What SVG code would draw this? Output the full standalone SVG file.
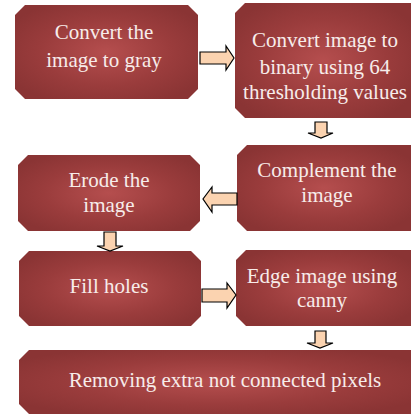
<svg xmlns="http://www.w3.org/2000/svg" width="411" height="414" viewBox="0 0 411 414">
<style>
.box{fill:url(#g);}
.t{font-size:21px;fill:#f7ecea;text-anchor:middle;}
.ar{fill:#fbd3b0;stroke:#000;stroke-width:1.2;stroke-linejoin:miter;}
</style>
<defs>
<radialGradient id="g" cx="50%" cy="50%" r="60%">
<stop offset="0" stop-color="#b54e4e"/>
<stop offset="0.6" stop-color="#9a3c3c"/>
<stop offset="1" stop-color="#8a3434"/>
</radialGradient>
</defs>
<rect width="411" height="414" fill="#fff"/>
<g font-family="'Liberation Serif', 'DejaVu Serif', serif">
<g id="n1">
<path class="box" d="M25,5 H188 L198,15 V89 L188,99 H25 L15,89 V15 Z"/>
<text class="t" x="104" y="39">Convert the</text>
<text class="t" x="104" y="67">image to gray</text>
</g>
<g id="n2">
<path class="box" d="M245,3 H411 V118 H245 L235,108 V13 Z"/>
<text class="t" x="325" y="47">Convert image to</text>
<text class="t" x="325" y="74">binary using 64</text>
<text class="t" x="325" y="99">thresholding values</text>
</g>
<g id="n3">
<path class="box" d="M247,145 H411 V231 H247 L237,221 V155 Z"/>
<text class="t" x="327" y="177">Complement the</text>
<text class="t" x="327" y="202">image</text>
</g>
<g id="n4">
<path class="box" d="M28,155 H190 L200,165 V221 L190,231 H28 L18,221 V165 Z"/>
<text class="t" x="109" y="187">Erode the</text>
<text class="t" x="109" y="212">image</text>
</g>
<g id="n5">
<path class="box" d="M29,251 H191 L201,261 V316 L191,326 H29 L19,316 V261 Z"/>
<text class="t" x="109" y="293">Fill holes</text>
</g>
<g id="n6">
<path class="box" d="M246,250 H411 V326 H246 L236,316 V260 Z"/>
<text class="t" x="322" y="283">Edge image using</text>
<text class="t" x="322" y="307">canny</text>
</g>
<g id="n7">
<path class="box" d="M29,350 H411 V414 H29 L19,404 V360 Z"/>
<text class="t" x="225" y="387">Removing extra not connected pixels</text>
</g>
</g>
<g id="connectors">
<path class="ar" d="M200,52 H226 V46 L234,58 L226,70 V64 H200 Z"/>
<path class="ar" d="M315,122 H327 V133 H333 L321,138 L308,133 H315 Z"/>
<path class="ar" d="M237,193 H212 V187 L203,199 L212,212 V205 H237 Z"/>
<path class="ar" d="M104,232 H116 V246 H123 L110,251 L97,246 H104 Z"/>
<path class="ar" d="M202,289 H227 V283 L236,295 L227,308 V302 H202 Z"/>
<path class="ar" d="M315,331 H326 V343 H333 L320,348 L307,343 H315 Z"/>
</g>
</svg>
